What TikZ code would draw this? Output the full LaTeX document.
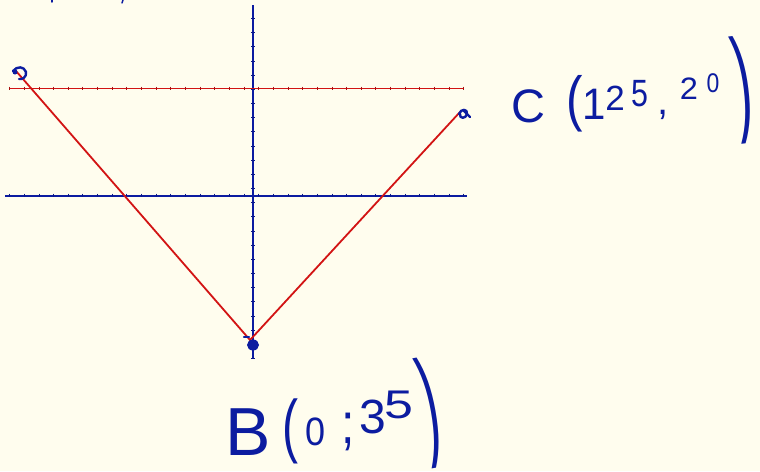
\documentclass[tikz,border=0pt]{standalone}
\usepackage{fontspec}
\setmainfont{Liberation Sans}
\definecolor{bgc}{RGB}{255,253,238}
\definecolor{inkblue}{RGB}{12,28,160}
\definecolor{inkred}{RGB}{210,20,20}
\newcommand{\hw}[2]{\fontsize{#1}{#1}\selectfont #2}
\tikzset{
  axisline/.style={draw=inkblue, line width=2pt},
  redline/.style={draw=inkred, line width=1.8pt},
  tickv/.style={draw=inkblue!85!black, line width=0.6pt},
  tickr/.style={draw=inkred!80!black, line width=0.6pt},
  ink/.style={text=inkblue, inner sep=0pt, outer sep=0pt, anchor=center},
  scribble/.style={draw=inkblue, line width=2.4pt, line cap=round, line join=round}
}
\begin{document}
\begin{tikzpicture}[x=1pt,y=-1pt]
\fill[bgc] (0,0) rectangle (760,471);
\useasboundingbox (0,0) rectangle (760,471);
% points
\coordinate (vtop) at (253,5);
\coordinate (vbot) at (253,359);
\coordinate (hl) at (5,195.5);
\coordinate (hr) at (467,195.5);
\coordinate (rl) at (9,88.5);
\coordinate (rr) at (463,88.5);
\coordinate (A) at (16,71);
\coordinate (B) at (250,340);
\coordinate (C) at (460,112);
\draw[axisline] (vtop) -- (vbot);
\draw[axisline] (hl) -- (hr);
\draw[redline] (rl) -- (rr);
% ticks on vertical axis
\foreach \k in {0,...,24} {
  \draw[tickv] (251.2,18.3+\k*14.17) -- (254.8,18.3+\k*14.17);
}
% ticks on horizontal lines
\foreach \k in {0,...,31} {
  \draw[tickv] (9.5+\k*14.65,193.7) -- (9.5+\k*14.65,197.3);
  \draw[tickr] (9.5+\k*14.65,86.7) -- (9.5+\k*14.65,90.3);
}
\draw[redline] (A) -- (B) -- (C);
% endpoint scribbles
\draw[scribble] (13,71) .. controls (17,66) and (24,66) .. (26,72) .. controls (27,77) and (22,80) .. (19,79);
\fill[inkblue] (15,72) circle (2.5);
\draw[scribble] (459,114) .. controls (461,108) and (468,109) .. (467,114) .. controls (466,119) and (459,119) .. (460,114);
\draw[scribble] (463,110) -- (470,117);
% dot at B
\fill[inkblue] (253,345) ellipse (6 and 5.5);
\draw[scribble] (244,337) -- (249,337);
% tiny cut marks at top
\draw[scribble, line width=1.5pt] (52,0) -- (52,2);
\draw[scribble, line width=1.5pt] (123,0) -- (122,3);
% label C(125,20)
\node[ink] (cC) at (528,106) {\hw{47}{C}};
\node[ink] (cpl) at (575,104) {\scalebox{1.3}[1.6]{\hw{38}{(}}};
\node[ink] (c1) at (594,104) {\scalebox{1}[1.05]{\hw{42}{1}}};
\node[ink] (c2) at (615,98) {\hw{35}{2}};
\node[ink] (c5) at (640,94) {\scalebox{0.8}[1]{\hw{38}{5}}};
\node[ink] (ccomma) at (663,115) {\hw{40}{,}};
\node[ink] (c2b) at (689,89) {\scalebox{1.05}[1]{\hw{31}{2}}};
\node[ink] (c0) at (713,83) {\scalebox{0.85}[1]{\hw{27}{0}}};
\node[ink, rotate=7] (cpr) at (743,90) {\scalebox{1.3}[2.9]{\hw{40}{)}}};
% label B(0;35)
\node[ink] (bB) at (248,432) {\hw{68}{B}};
\node[ink] (bpl) at (290,431) {\scalebox{1.2}[1.75]{\hw{40}{(}}};
\node[ink] (b0) at (316,432) {\scalebox{1}[1.1]{\hw{36}{0}}};
\node[ink] (bsemi) at (348,432) {\scalebox{1}[1.2]{\hw{48}{;}}};
\node[ink] (b3) at (373,417) {\hw{48}{3}};
\node[ink] (b5) at (399,405) {\scalebox{1.3}[1]{\hw{40}{5}}};
\node[ink, rotate=10] (bpr) at (431,412) {\scalebox{1.3}[3.0]{\hw{40}{)}}};
\end{tikzpicture}
\end{document}
